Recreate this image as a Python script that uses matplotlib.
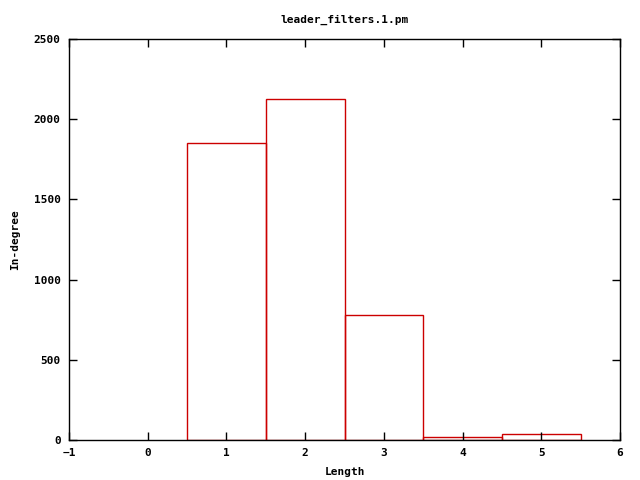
import matplotlib
matplotlib.use("Agg")
import matplotlib.pyplot as plt

# histogram of path lengths
lengths = [1, 2, 3, 4, 5]
indegree = [1850, 2125, 779, 18, 37]

title = "leader_filters.1.pm"
xlabel = "Length"
ylabel = "In-degree"

plt.rcParams["font.family"] = ["DejaVu Sans Mono"]
plt.rcParams["font.weight"] = "bold"

fig = plt.figure(figsize=(6.4, 4.8), dpi=100)
ax = fig.add_axes([69 / 640, 40 / 480, 551 / 640, 401 / 480])

ax.bar(lengths, indegree, width=1.0, fill=False, edgecolor="#cc0000", linewidth=1.0)

ax.set_xlim(-1, 6)
ax.set_ylim(0, 2500)
ax.set_xticks(range(-1, 7))
ax.set_yticks(range(0, 2501, 500))
ax.tick_params(direction="in", length=6, width=1, top=True, right=True,
               labelsize=8, pad=6, colors="black")
for s in ax.spines.values():
    s.set_linewidth(1)

ax.set_title(title, fontsize=8, fontweight="bold", pad=12)
ax.set_xlabel(xlabel, fontsize=8, fontweight="bold", labelpad=6)
ax.set_ylabel(ylabel, fontsize=8, fontweight="bold", labelpad=10)

fig.savefig("out.png", dpi=100)
